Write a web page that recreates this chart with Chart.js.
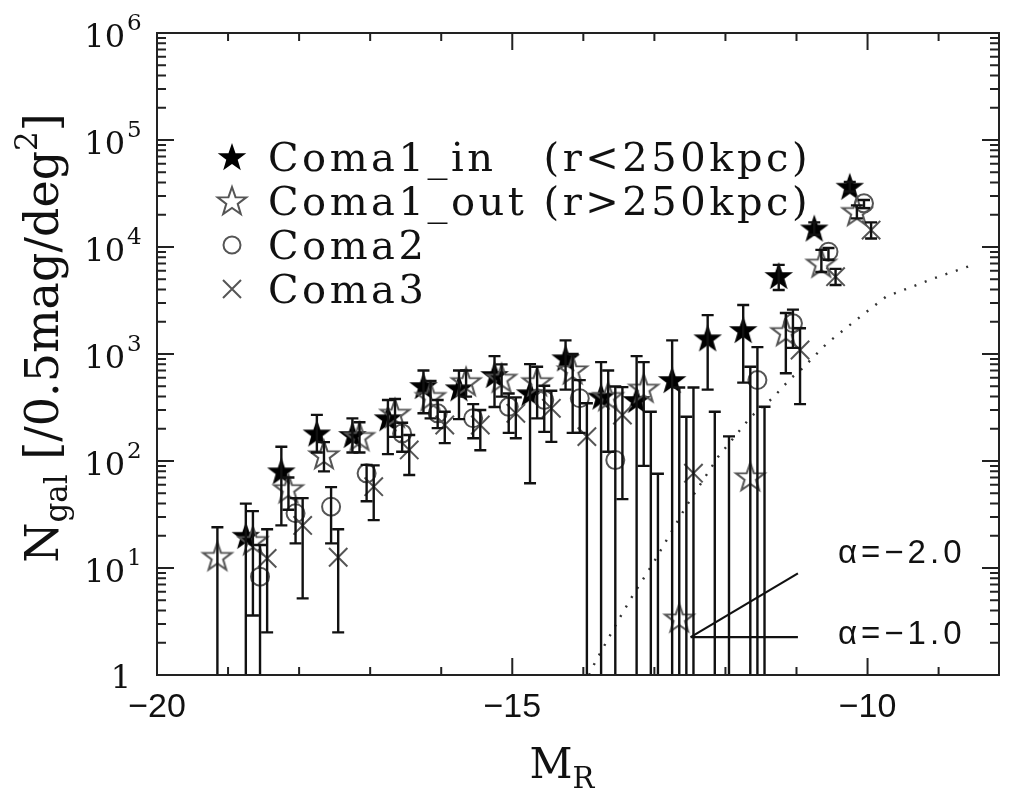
<!DOCTYPE html>
<html>
<head>
<meta charset="utf-8">
<script src="https://cdn.jsdelivr.net/npm/chart.js@4.4.1/dist/chart.umd.min.js"></script>
<style>
  html, body { margin: 0; padding: 0; background: #fff; }
  canvas { display: block; }
</style>
</head>
<body>
<canvas id="lfChart" width="1014" height="799"></canvas>
<script>
// Coma1_in (r<250kpc), filled stars
const inM  = [-18.75, -18.25, -17.75, -17.25, -16.75, -16.25, -15.75, -15.25, -14.75, -14.25, -13.75, -13.25, -12.75, -12.25, -11.75, -11.25, -10.75, -10.25];
const inN  = [20, 80, 181, 175, 251, 502, 478, 637, 430, 912, 400, 372, 571, 1403, 1675, 5360, 14900, 36600];
const inLo = [0, 25, 120, 120, 116, 279, 246, 320, 62, 465, 0, 0, 0, 465, 540, 3970, 13000, 33000];
const inHi = [40, 136, 270, 250, 372, 700, 700, 955, 805, 1340, 840, 955, 1340, 2310, 2870, 6800, 17000, 40500];

// Coma1_out (r>250kpc), open stars
const outM  = [-19.15, -18.65, -18.15, -17.65, -17.15, -16.65, -16.15, -15.65, -15.15, -14.65, -14.15, -13.65, -13.15, -12.65, -12.15, -11.65, -11.15, -10.65, -10.15];
const outN  = [12.8, 18, 55, 114, 169, 279, 400, 550, 593, 550, 709, 400, 478, 3.4, null, 71, 1616, 7040, 21400];
const outLo = [0, 3.6, 35, 80, 120, 168, 250, 400, 400, 250, 183, 122, 90, 0, 0, 0, 660, 5840, 18500];
const outHi = [24, 34, 70, 150, 230, 380, 560, 700, 800, 760, 1000, 700, 840, 486, 289, 760, 2420, 9400, 24500];

// Coma2, open circles
const c2M  = [-18.55, -18.05, -17.55, -17.05, -16.55, -16.05, -15.55, -15.05, -14.55, -14.05, -13.55, -13.05, -12.55, -11.55, -11.05, -10.55, -10.05];
const c2N  = [8.3, 32.5, 37.4, 76.7, 181, 279, 251, 321, 372, 386, 102, null, null, 571, 1936, 9030, 25600];
const c2Lo = [0, 17, 17, 42, 122, 203, 163, 183, 187, 183, 0, 0, 0, 0, 1140, 7600, 23100];
const c2Hi = [16.4, 45, 57, 92, 228, 372, 340, 427, 505, 570, 497, 289, 259, 1160, 2600, 9800, 27500];

// Coma3, crosses
const c3M  = [-18.45, -17.95, -17.45, -16.95, -16.45, -15.95, -15.45, -14.95, -14.45, -13.95, -13.45, -12.95, -12.45, -11.95, -11.45, -10.95, -10.45, -9.95];
const c3N  = [12.3, 25, 12.6, 57.5, 127, 217, 217, 279, 311, 169, 269, null, 77, null, null, 1090, 5280, 14400];
const c3Lo = [2.5, 5.2, 2.5, 28, 74, 147, 126, 163, 151, 0, 44, 0, 0, 0, 0, 340, 4420, 12000];
const c3Hi = [23, 45, 23, 91, 175, 289, 300, 393, 454, 346, 490, 76, 486, 170, 321, 1740, 6250, 17000];

// dotted model curve
const modM = [-13.92, -13.83, -13.49, -13.3, -13.02, -12.56, -12.1, -11.64, -11.34, -11.08, -10.94, -10.57, -10.16, -9.74, -9.1, -8.52];
const modN = [1, 1.33, 3.4, 5.6, 11, 37, 110, 260, 385, 593, 708, 1260, 2080, 3430, 5000, 6800];

// slope guide lines
const slopeM   = [-12.49, -10.98];
const alpha2N  = [2.26, 8.9];
const alpha1N  = [2.26, 2.26];

const legendLabels = ['Coma1_in', 'Coma1_out', 'Coma2', 'Coma3'];
const legendNotes  = ['(r<250kpc)', '(r>250kpc)', '', ''];
const decades = [0, 1, 2, 3, 4, 5, 6];

const SERIF = '"DejaVu Serif", "Liberation Serif", serif';
const SANS = '"Liberation Sans", Arial, sans-serif';
const GRAY = '#555';

function pts(xs, ys) {
  return xs.map((v, i) => ({ x: v, y: ys[i] }));
}

function starPath(g, cx, cy, R, r) {
  g.beginPath();
  for (let i = 0; i < 10; i++) {
    const a = -Math.PI / 2 + i * Math.PI / 5;
    const rr = i % 2 ? r : R;
    const px = cx + rr * Math.cos(a), py = cy + rr * Math.sin(a);
    if (i) g.lineTo(px, py); else g.moveTo(px, py);
  }
  g.closePath();
}

function starImage(filled) {
  const c = document.createElement('canvas');
  c.width = 36; c.height = 36;
  const g = c.getContext('2d');
  starPath(g, 18, 19, 15, 6);
  if (filled) { g.fillStyle = '#000'; g.fill(); }
  else { g.strokeStyle = GRAY; g.lineWidth = 2; g.stroke(); }
  return c;
}

const filledStar = starImage(true);
const openStar = starImage(false);

// error bars, drawn on top of the markers
const errorBars = {
  id: 'errorBars',
  afterDatasetsDraw(chart) {
    const { ctx, chartArea: a, scales: { x, y } } = chart;
    ctx.save();
    ctx.beginPath();
    ctx.rect(a.left, a.top, a.right - a.left, a.bottom - a.top);
    ctx.clip();
    ctx.strokeStyle = '#111';
    ctx.lineWidth = 2.4;
    chart.data.datasets.forEach(ds => {
      if (!ds.hi) return;
      ds.data.forEach((p, i) => {
        const px = x.getPixelForValue(p.x);
        const top = y.getPixelForValue(ds.hi[i]);
        const hasLo = ds.lo[i] > 0;
        const bot = hasLo ? y.getPixelForValue(ds.lo[i]) : a.bottom + 3;
        ctx.beginPath();
        ctx.moveTo(px, top); ctx.lineTo(px, bot);
        ctx.moveTo(px - 6, top); ctx.lineTo(px + 6, top);
        if (hasLo) { ctx.moveTo(px - 6, bot); ctx.lineTo(px + 6, bot); }
        ctx.stroke();
      });
    });
    ctx.restore();
  }
};

function drawRich(ctx, runs, x, y) {
  let w = 0;
  runs.forEach(r => { ctx.font = r.size + 'px ' + r.font; r.w = ctx.measureText(r.t).width; w += r.w; });
  let cx = x - w / 2;
  ctx.textAlign = 'left';
  ctx.textBaseline = 'alphabetic';
  runs.forEach(r => {
    ctx.font = r.size + 'px ' + r.font;
    ctx.fillText(r.t, cx, y + (r.dy || 0));
    cx += r.w;
  });
}

// frame, inward ticks, log labels, titles, legend and annotations
const decor = {
  id: 'decor',
  afterDraw(chart) {
    const { ctx, chartArea: a, scales: { x, y } } = chart;
    ctx.save();
    ctx.strokeStyle = '#222';
    ctx.lineWidth = 2;
    ctx.strokeRect(a.left, a.top, a.right - a.left, a.bottom - a.top);

    ctx.beginPath();
    for (let m = -20; m <= -8; m++) {
      const px = x.getPixelForValue(m);
      if (px > a.right - 1) continue;
      const len = m % 5 === 0 ? 17 : 8;
      ctx.moveTo(px, a.bottom); ctx.lineTo(px, a.bottom - len);
      ctx.moveTo(px, a.top); ctx.lineTo(px, a.top + len);
    }
    decades.forEach(d => {
      for (let k = 1; k <= 9; k++) {
        if (d === 6 && k > 1) break;
        const py = y.getPixelForValue(k * Math.pow(10, d));
        const len = k === 1 ? 17 : 9;
        ctx.moveTo(a.left, py); ctx.lineTo(a.left + len, py);
        ctx.moveTo(a.right, py); ctx.lineTo(a.right - len, py);
      }
    });
    ctx.stroke();

    // y tick labels
    ctx.fillStyle = '#111';
    ctx.textBaseline = 'alphabetic';
    decades.forEach(d => {
      const py = y.getPixelForValue(Math.pow(10, d));
      ctx.font = '32px ' + SERIF;
      ctx.textAlign = 'right';
      if (d === 0) {
        ctx.fillText('1', 131, py + 13);
      } else {
        ctx.fillText('10', 125, py + 14);
        ctx.font = '23px ' + SERIF;
        ctx.textAlign = 'left';
        ctx.fillText(String(d), 127, py - 3);
      }
    });

    // axis titles
    drawRich(ctx, [
      { t: 'M', size: 42, font: SERIF },
      { t: 'R', size: 29, font: SERIF, dy: 10 }
    ], 562, 778);

    ctx.save();
    ctx.translate(58, 338);
    ctx.rotate(-Math.PI / 2);
    drawRich(ctx, [
      { t: 'N', size: 46, font: SERIF },
      { t: 'gal', size: 31, font: SERIF, dy: 9 },
      { t: ' [/0.5mag/deg', size: 46, font: SERIF },
      { t: '2', size: 31, font: SERIF, dy: -21 },
      { t: ']', size: 46, font: SERIF }
    ], 0, 0);
    ctx.restore();

    // legend
    const rowY = [171, 215, 259, 303];
    const symX = 232, textX = 268;
    ctx.font = '40px ' + SERIF;
    ctx.letterSpacing = '3.5px';
    ctx.textAlign = 'left';
    const noteX = textX + ctx.measureText('Coma1_out ').width;
    legendLabels.forEach((lab, i) => {
      const by = rowY[i];
      const cy = by - 14;
      ctx.fillStyle = '#111';
      ctx.fillText(lab, textX, by);
      if (legendNotes[i]) ctx.fillText(legendNotes[i], noteX, by);
      ctx.lineWidth = 2;
      if (i === 0) ctx.drawImage(filledStar, symX - 18, cy - 18);
      if (i === 1) ctx.drawImage(openStar, symX - 18, cy - 18);
      if (i === 2) {
        ctx.strokeStyle = GRAY;
        ctx.beginPath(); ctx.arc(symX, cy, 8.5, 0, Math.PI * 2); ctx.stroke();
      }
      if (i === 3) {
        ctx.strokeStyle = GRAY;
        ctx.beginPath();
        ctx.moveTo(symX - 9, cy - 9); ctx.lineTo(symX + 9, cy + 9);
        ctx.moveTo(symX + 9, cy - 9); ctx.lineTo(symX - 9, cy + 9);
        ctx.stroke();
      }
    });

    // slope labels
    ctx.fillStyle = '#111';
    ctx.font = '33px ' + SANS;
    ctx.letterSpacing = '4px';
    ctx.fillText('\u03b1=\u22122.0', 838, 563);
    ctx.fillText('\u03b1=\u22121.0', 838, 644);
    ctx.restore();
  }
};

new Chart(document.getElementById('lfChart'), {
  type: 'scatter',
  data: {
    datasets: [
      {
        label: 'model', data: pts(modM, modN), showLine: true, pointRadius: 0,
        borderColor: '#333', borderWidth: 2.4, borderDash: [2, 9], tension: 0
      },
      {
        label: 'alpha -2.0', data: pts(slopeM, alpha2N), showLine: true, pointRadius: 0,
        borderColor: '#111', borderWidth: 2.2
      },
      {
        label: 'alpha -1.0', data: pts(slopeM, alpha1N), showLine: true, pointRadius: 0,
        borderColor: '#111', borderWidth: 2.2
      },
      {
        label: 'Coma3', data: pts(c3M, c3N), lo: c3Lo, hi: c3Hi,
        pointStyle: 'crossRot', pointRadius: 13, borderColor: GRAY, borderWidth: 2
      },
      {
        label: 'Coma2', data: pts(c2M, c2N), lo: c2Lo, hi: c2Hi,
        pointStyle: 'circle', pointRadius: 9, borderColor: GRAY, borderWidth: 2,
        backgroundColor: 'rgba(0,0,0,0)'
      },
      {
        label: 'Coma1_out', data: pts(outM, outN), lo: outLo, hi: outHi,
        pointStyle: openStar
      },
      {
        label: 'Coma1_in', data: pts(inM, inN), lo: inLo, hi: inHi,
        pointStyle: filledStar
      }
    ]
  },
  options: {
    responsive: false,
    devicePixelRatio: 1,
    animation: false,
    layout: { padding: { left: 0, right: 2, top: 33, bottom: 0 } },
    plugins: {
      legend: { display: false },
      tooltip: { enabled: false }
    },
    scales: {
      x: {
        type: 'linear', min: -20, max: -8.15,
        grid: { display: false, drawTicks: false },
        border: { display: false },
        ticks: {
          stepSize: 5, includeBounds: false, autoSkip: false, maxRotation: 0, padding: 12,
          color: '#111', font: { family: SANS, size: 34 },
          callback: v => (v % 5 === 0 ? '\u2212' + Math.abs(v) : '')
        },
        afterFit: s => { s.height = 124; }
      },
      y: {
        type: 'logarithmic', min: 1, max: 1e6,
        grid: { display: false, drawTicks: false },
        border: { display: false },
        ticks: { display: false },
        afterFit: s => { s.width = 157; }
      }
    }
  },
  plugins: [errorBars, decor]
});
</script>
</body>
</html>
